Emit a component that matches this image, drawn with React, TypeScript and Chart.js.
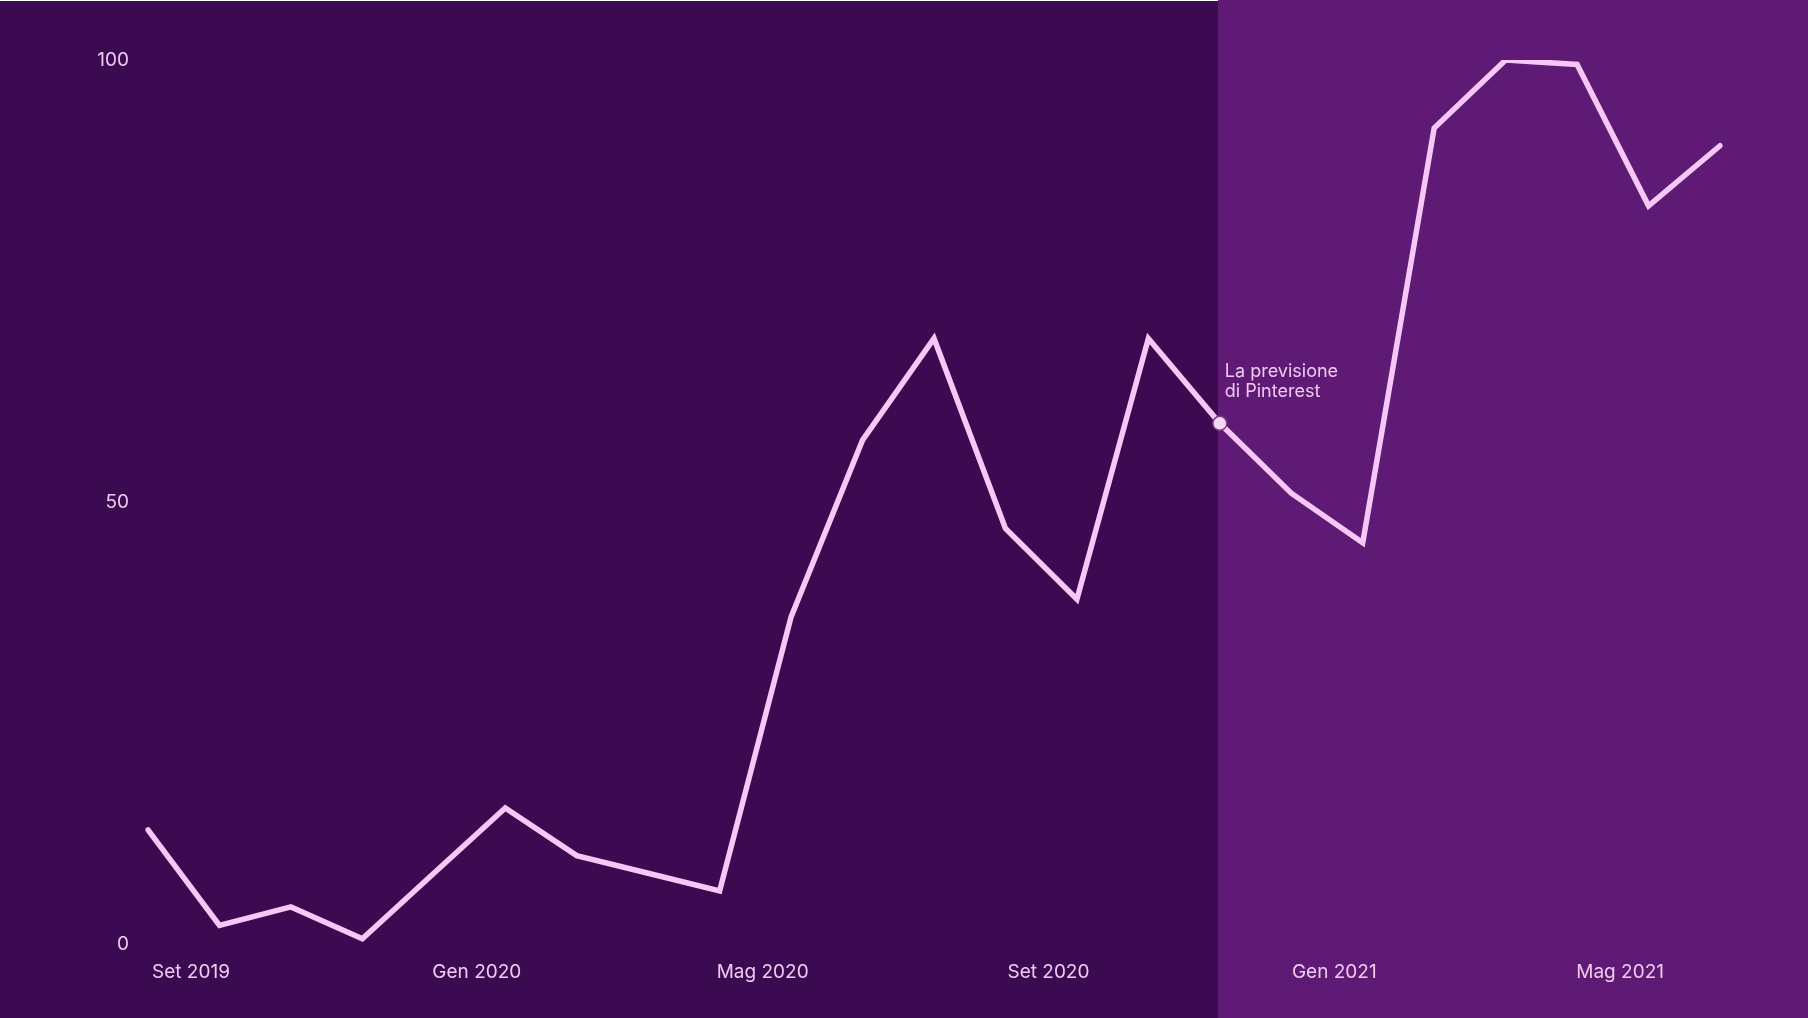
import React, { useEffect, useRef } from "react";
import { Chart, registerables } from "chart.js";

Chart.register(...registerables);

const months = [
  "Set 2019", "Ott 2019", "Nov 2019", "Dic 2019",
  "Gen 2020", "Feb 2020", "Mar 2020", "Apr 2020",
  "Mag 2020", "Giu 2020", "Lug 2020", "Ago 2020",
  "Set 2020", "Ott 2020", "Nov 2020", "Dic 2020",
  "Gen 2021", "Feb 2021", "Mar 2021", "Apr 2021",
  "Mag 2021", "Giu 2021", "Lug 2021",
];

const interest = [
  12.9, 2.1, 4.2, 0.6, 8, 15.4, 10, 8, 6, 37, 57, 68.5, 47, 39, 68.5, 58.9, 51, 45.4, 92.3, 100, 99.5, 83.5, 90.3,
];

const shownTicks = ["Set 2019", "Gen 2020", "Mag 2020", "Set 2020", "Gen 2021", "Mag 2021"];
const yTicks = [0, 50, 100];

const forecastIndex = 15;
const annotationLines = ["La previsione", "di Pinterest"];

const DARK = "#3c0a51";
const LIGHT = "#5e1a74";
const LINE = "#f7c8f7";
const TEXT = "#f2caf0";
const FONT = "Inter, 'Noto Sans', sans-serif";

export default function App() {
  const ref = useRef<HTMLCanvasElement | null>(null);

  useEffect(() => {
    const canvas = ref.current;
    if (!canvas) return;

    const bgPlugin = {
      id: "bgSplit",
      beforeDraw(chart: any) {
        const { ctx, width, height } = chart;
        const split = Math.round(chart.scales.x.getPixelForValue(forecastIndex)) - 2;
        ctx.save();
        ctx.fillStyle = "#ffffff";
        ctx.fillRect(0, 0, split, 1);
        ctx.fillStyle = DARK;
        ctx.fillRect(0, 1, split, height - 1);
        ctx.fillStyle = LIGHT;
        ctx.fillRect(split, 0, width - split, height);
        ctx.restore();
      },
      afterDatasetsDraw(chart: any) {
        const { ctx } = chart;
        const px = chart.scales.x.getPixelForValue(forecastIndex);
        const py = chart.scales.y.getPixelForValue(interest[forecastIndex]);
        ctx.save();
        ctx.fillStyle = TEXT;
        ctx.font = `18px ${FONT}`;
        ctx.textAlign = "left";
        ctx.textBaseline = "middle";
        ctx.fillText(annotationLines[0], px + 5, py - 52);
        ctx.fillText(annotationLines[1], px + 5, py - 32);
        ctx.restore();
      },
    };

    const chart = new Chart(canvas, {
      type: "line",
      data: {
        labels: months,
        datasets: [
          {
            data: interest,
            borderColor: LINE,
            borderWidth: 5.5,
            borderJoinStyle: "miter",
            borderCapStyle: "round",
            tension: 0,
            fill: false,
            pointRadius: (c: any) => (c.dataIndex === forecastIndex ? 7 : 0),
            pointHoverRadius: (c: any) => (c.dataIndex === forecastIndex ? 7 : 0),
            pointBackgroundColor: "#f8d4f6",
            pointBorderColor: "#7a3a86",
            pointBorderWidth: 1.5,
          },
        ],
      },
      options: {
        responsive: false,
        animation: false,
        events: [],
        layout: { padding: { top: 60, right: 88, bottom: 0, left: 0 } },
        plugins: {
          legend: { display: false },
          tooltip: { enabled: false },
        },
        scales: {
          x: {
            offset: false,
            grid: { display: false, drawTicks: false },
            border: { display: false },
            ticks: {
              autoSkip: false,
              maxRotation: 0,
              minRotation: 0,
              align: "center",
              labelOffset: 43,
              padding: 17,
              color: TEXT,
              font: { family: FONT, size: 19 },
              callback: (_v: any, i: number) => (shownTicks.includes(months[i]) ? months[i] : ""),
            },
            afterFit: (s: any) => {
              s.height = 74;
            },
          },
          y: {
            min: 0,
            max: 100,
            grid: { display: false, drawTicks: false },
            border: { display: false },
            afterBuildTicks: (s: any) => {
              s.ticks = yTicks.map((v) => ({ value: v }));
            },
            ticks: {
              padding: 19,
              color: TEXT,
              font: { family: FONT, size: 19 },
            },
            afterFit: (s: any) => {
              s.width = 148;
            },
          },
        },
      } as any,
      plugins: [bgPlugin],
    });

    return () => chart.destroy();
  }, []);

  return (
    <div style={{ position: "fixed", left: 0, top: 0, width: 1808, height: 1018, overflow: "hidden" }}>
      <canvas ref={ref} width={1808} height={1018} style={{ display: "block" }} />
    </div>
  );
}
